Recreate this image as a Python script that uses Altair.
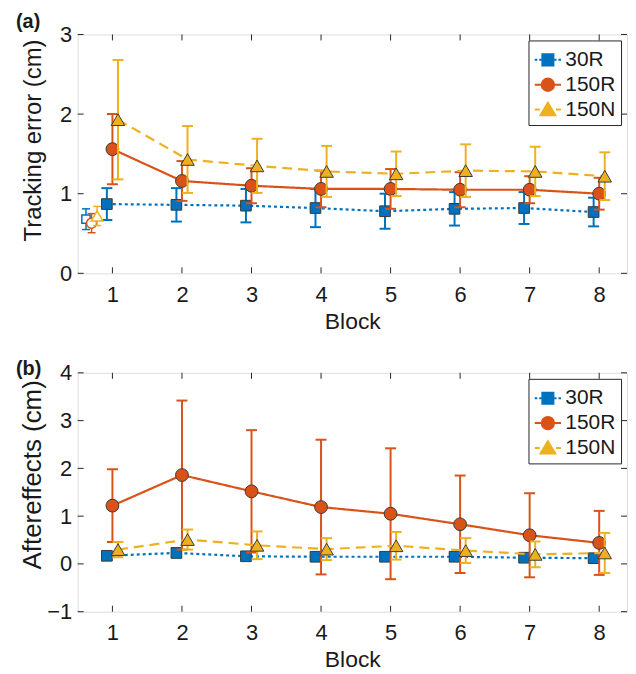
import altair as alt
import pandas as pd

FONT = "Liberation Sans"
TXT = "#1a1a1a"
FRAME = "#262626"

blocks = [1, 2, 3, 4, 5, 6, 7, 8]
series_names = ["30R", "150R", "150N"]
series_colors = ["#0072BD", "#D95319", "#EDB120"]
series_offsets = [-0.08, 0.0, 0.08]
pre_x = 0.7

# Panel (a): tracking error (cm), mean and SD per block
a_30R_mean = [0.87, 0.86, 0.85, 0.82, 0.78, 0.81, 0.82, 0.77]
a_30R_sd = [0.20, 0.21, 0.21, 0.24, 0.22, 0.21, 0.20, 0.18]
a_150R_mean = [1.56, 1.16, 1.10, 1.06, 1.06, 1.05, 1.05, 1.00]
a_150R_sd = [0.44, 0.25, 0.22, 0.23, 0.25, 0.22, 0.17, 0.20]
a_150N_mean = [1.93, 1.43, 1.35, 1.28, 1.25, 1.29, 1.28, 1.22]
a_150N_sd = [0.75, 0.42, 0.34, 0.32, 0.28, 0.33, 0.31, 0.30]
# baseline (open markers) before block 1: 30R, 150R, 150N
a_pre_mean = [0.68, 0.63, 0.72]
a_pre_sd = [0.13, 0.12, 0.12]

# Panel (b): aftereffects (cm)
b_30R_mean = [0.17, 0.23, 0.16, 0.15, 0.15, 0.15, 0.13, 0.12]
b_30R_sd = [0.08, 0.09, 0.06, 0.06, 0.06, 0.06, 0.06, 0.06]
b_150R_mean = [1.22, 1.86, 1.52, 1.19, 1.05, 0.83, 0.60, 0.44]
b_150R_sd = [0.76, 1.56, 1.28, 1.41, 1.37, 1.02, 0.88, 0.67]
b_150N_mean = [0.30, 0.51, 0.39, 0.31, 0.38, 0.28, 0.20, 0.23]
b_150N_sd = [0.16, 0.21, 0.29, 0.23, 0.29, 0.26, 0.27, 0.42]

a_yticks = [0, 1, 2, 3]
b_yticks = [-1, 0, 1, 2, 3, 4]

shapes = ["square", "circle", "triangle-up"]
sizes = [115, 165, 185]
pre_sizes = [70, 100, 140]
dashes = [[3, 3], [1, 0], [10, 6]]
# legend glyphs: marker with short line stubs (dotted / solid / dashed)
legend_paths = [
    "M-1,0H-0.8M-0.66,0H-0.5M0.5,0H0.66M0.8,0H1M-0.42,-0.42H0.42V0.42H-0.42Z",
    "M-1,0H-0.47M0.47,0H1M0.47,0A0.47,0.47,0,1,1,-0.47,0A0.47,0.47,0,1,1,0.47,0Z",
    "M-1,0H-0.62M0.62,0H1M0,-0.52L0.56,0.42H-0.56Z",
]

W, H = 552, 240


def build_df(means, sds):
    rows = []
    for i, s in enumerate(series_names):
        for b, m, sd in zip(blocks, means[i], sds[i]):
            rows.append({"series": s, "x": b + series_offsets[i], "y": m,
                         "lo": m - sd, "hi": m + sd})
    return pd.DataFrame(rows)


def build_pre(means, sds):
    rows = []
    for i, s in enumerate(series_names):
        rows.append({"series": s, "x": pre_x + series_offsets[i], "y": means[i],
                     "lo": means[i] - sds[i], "hi": means[i] + sds[i]})
    return pd.DataFrame(rows)


def make_panel(df, pre_df, ydom, yticks, ytitle, title_size, title_y, label, label_y):
    xscale = alt.Scale(domain=[0.5, 8.4], nice=False, zero=False)
    yscale = alt.Scale(domain=ydom, nice=False, zero=False)
    xaxis = alt.Axis(values=blocks, title="Block", grid=False, ticks=False, domain=False,
                     labelPadding=11, labelFontSize=22, labelFont=FONT, labelColor=TXT,
                     titleFont=FONT, titleFontSize=23, titleFontWeight="normal", titleColor=TXT,
                     titleY=55, titleBaseline="alphabetic", format="d", labelFlush=False)
    yaxis = alt.Axis(values=yticks, title=ytitle, grid=False, ticks=False, domain=False,
                     labelPadding=6, labelFontSize=22, labelFont=FONT, labelColor=TXT,
                     titleFont=FONT, titleFontSize=title_size, titleFontWeight="normal", titleColor=TXT,
                     titleX=-37, titleY=title_y, titleAngle=270, titleBaseline="alphabetic",
                     titleAlign="center", format="d", labelFlush=False)

    def X(f="x"):
        return alt.X(f, type="quantitative", scale=xscale, axis=xaxis)

    def Y(f):
        return alt.Y(f, type="quantitative", scale=yscale, axis=yaxis)

    xt = pd.DataFrame({"x": blocks})
    yt = pd.DataFrame({"y": yticks})
    layers = [
        alt.Chart(xt).mark_rule(color=FRAME, strokeWidth=1).encode(x=X(), y=alt.value(H), y2=alt.value(H - 6)),
        alt.Chart(xt).mark_rule(color=FRAME, strokeWidth=1).encode(x=X(), y=alt.value(0), y2=alt.value(6)),
        alt.Chart(yt).mark_rule(color=FRAME, strokeWidth=1).encode(y=Y("y"), x=alt.value(0), x2=alt.value(6)),
        alt.Chart(yt).mark_rule(color=FRAME, strokeWidth=1).encode(y=Y("y"), x=alt.value(W), x2=alt.value(W - 6)),
    ]

    for i, s in enumerate(series_names):
        c = series_colors[i]
        if pre_df is not None:
            p = pre_df[pre_df.series == s]
            layers += [
                alt.Chart(p).mark_rule(color=c, strokeWidth=1.5).encode(x=X(), y=Y("lo"), y2="hi:Q"),
                alt.Chart(p).mark_tick(orient="horizontal", color=c, size=8, thickness=1.5, opacity=1).encode(x=X(), y=Y("lo")),
                alt.Chart(p).mark_tick(orient="horizontal", color=c, size=8, thickness=1.5, opacity=1).encode(x=X(), y=Y("hi")),
                alt.Chart(p).mark_point(shape=shapes[i], filled=True, fill="white", stroke=c,
                                        strokeWidth=1.5, size=pre_sizes[i], opacity=1).encode(x=X(), y=Y("y")),
            ]
        d = df[df.series == s]
        layers += [
            alt.Chart(d).mark_rule(color=c, strokeWidth=2).encode(x=X(), y=Y("lo"), y2="hi:Q"),
            alt.Chart(d).mark_tick(orient="horizontal", color=c, size=11, thickness=2, opacity=1).encode(x=X(), y=Y("lo")),
            alt.Chart(d).mark_tick(orient="horizontal", color=c, size=11, thickness=2, opacity=1).encode(x=X(), y=Y("hi")),
            alt.Chart(d).mark_line(color=c, strokeWidth=2.2, strokeDash=dashes[i]).encode(x=X(), y=Y("y")),
            alt.Chart(d).mark_point(shape=shapes[i], filled=True, fill=c, stroke="#3a3a3a",
                                    strokeWidth=1, size=sizes[i], opacity=1).encode(x=X(), y=Y("y")),
        ]

    # legend (marks placed outside the x domain and clipped, only the legend shows)
    leg_df = pd.DataFrame({"series": series_names, "x": [-10] * 3, "y": [0] * 3})
    dom = series_names
    legend = alt.Legend(orient="top-right", offset=6, title=None, labelFontSize=21,
                        labelFont=FONT, labelColor=TXT, symbolSize=700, symbolStrokeWidth=2,
                        padding=5, rowPadding=0, labelOffset=3, strokeColor=FRAME,
                        fillColor="white", cornerRadius=0)
    layers.append(
        alt.Chart(leg_df).mark_point(clip=True, filled=True, opacity=1, size=700).encode(
            x=X(), y=Y("y"),
            shape=alt.Shape("series:N", scale=alt.Scale(domain=dom, range=legend_paths), legend=legend),
            fill=alt.Fill("series:N", scale=alt.Scale(domain=dom, range=series_colors), legend=legend),
            stroke=alt.Stroke("series:N", scale=alt.Scale(domain=dom, range=series_colors), legend=legend),
        )
    )

    lab = pd.DataFrame({"label": [label]})
    layers.append(
        alt.Chart(lab).mark_text(align="left", baseline="alphabetic", fontSize=20, fontWeight="bold",
                                 font=FONT, color=TXT).encode(
            x=alt.value(-62), y=alt.value(label_y), text="label:N")
    )
    return alt.layer(*layers).properties(width=W, height=H)


df_a = build_df([a_30R_mean, a_150R_mean, a_150N_mean], [a_30R_sd, a_150R_sd, a_150N_sd])
pre_a = build_pre(a_pre_mean, a_pre_sd)
df_b = build_df([b_30R_mean, b_150R_mean, b_150N_mean], [b_30R_sd, b_150R_sd, b_150N_sd])

panel_a = make_panel(df_a, pre_a, [0, 3], a_yticks, "Tracking error (cm)", 24, 106, "(a)", -7)
panel_b = make_panel(df_b, None, [-1, 4], b_yticks, "Aftereffects (cm)", 26, 102, "(b)", 2)

chart = alt.vconcat(panel_a, panel_b, spacing=24).resolve_scale(
    shape="independent", fill="independent", stroke="independent"
).resolve_legend(
    shape="independent", fill="independent", stroke="independent"
).properties(
    padding={"left": 7, "top": 1, "right": 0, "bottom": 0}
).configure_view(stroke=FRAME, strokeWidth=1.5).configure(background="white")

chart.save("out.html", embed_options={"renderer": "svg", "actions": False})
